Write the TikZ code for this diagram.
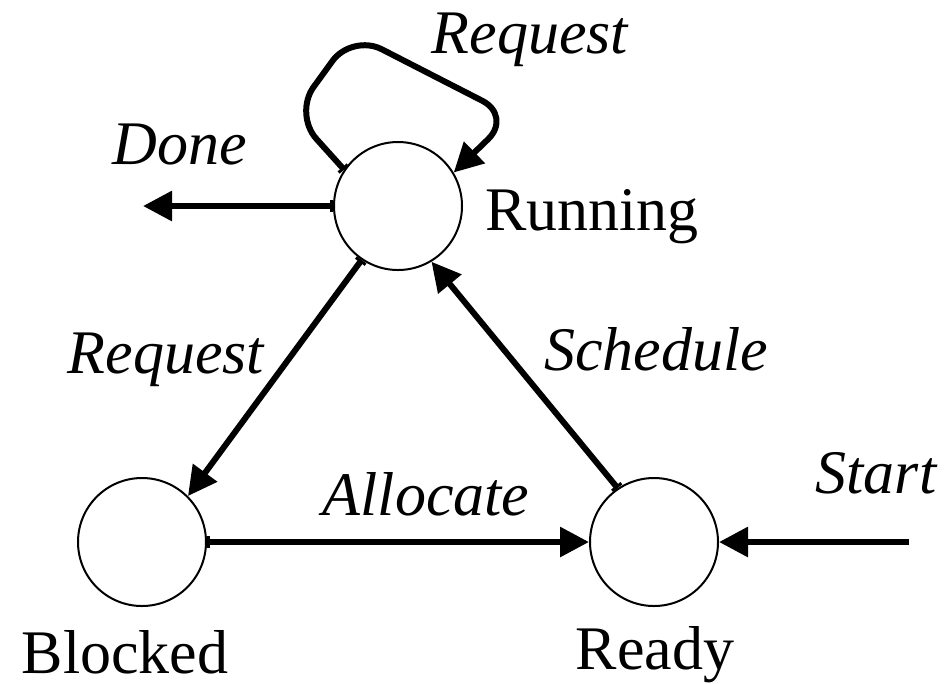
\documentclass[tikz,border=0pt]{standalone}
\usepackage{fontspec}
\setmainfont{Liberation Serif}
\usetikzlibrary{arrows.meta}

\begin{document}
\begin{tikzpicture}[x=0.3pt, y=-0.3pt,
        >={Triangle[length=8.7pt,width=8.7pt]},
        state/.style={circle, draw, line width=0.6pt, minimum size=38.4pt, inner sep=0pt},
        trans/.style={line width=1.8pt, {Bar[width=3.6pt,line width=0.9pt]}->},
        free/.style={line width=1.8pt, ->},
        evt/.style={anchor=base, inner sep=0pt, font=\fontsize{18.6}{22}\selectfont\itshape},
        stname/.style={anchor=base, inner sep=0pt, font=\fontsize{18.6}{22}\selectfont}]
        \useasboundingbox (0,0) rectangle (948,683);
        \node [state] (run) at (398,206) {};
        \node [state] (blk) at (142,542) {};
        \node [state] (rdy) at (654,542) {};
        \node [stname] (runtxt) at (592,230) {Running};
        \node [stname] (blktxt) at (125,673) {Blocked};
        \node [stname] (rdytxt) at (655,669) {Ready};
        \node [evt] (req1) at (530,53) {Request};
        \node [evt] (done) at (180,164) {Done};
        \node [evt] (req2) at (166,373) {Request};
        \node [evt] (sched) at (656,370) {Schedule};
        \node [evt] (alloc) at (426,515) {Allocate};
        \node [evt] (start) at (876,493) {Start};
        \coordinate (doneend) at (143,206);
        \coordinate (startbeg) at (909,542);
        \draw [trans, rounded corners=10pt] (run.146) -- (294,114) -- (352,34) -- (512,116) -- (run.31);
        \draw [trans] (run.west) -- (doneend);
        \draw [trans] (run.236) -- (blk.45);
        \draw [trans] (rdy.124) -- (run.-59);
        \draw [trans] (blk.east) -- (rdy.west);
        \draw [free] (startbeg) -- (rdy.east);
\end{tikzpicture}
\end{document}
